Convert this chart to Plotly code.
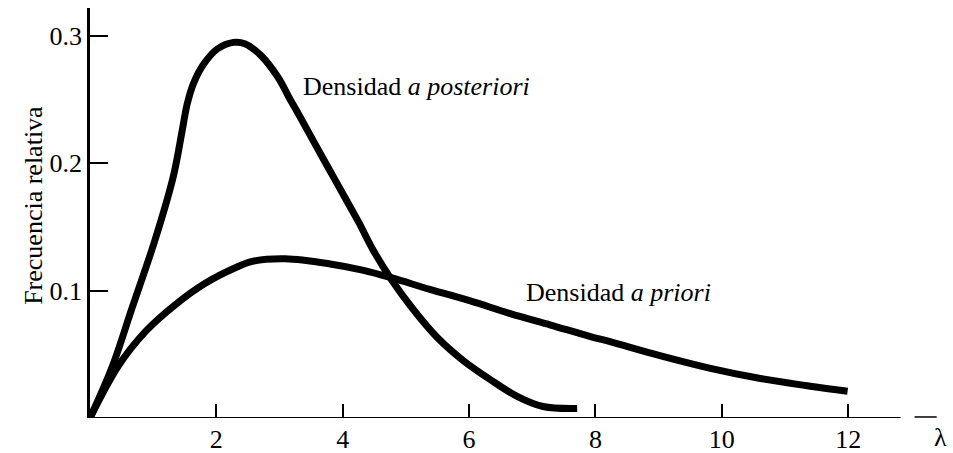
import plotly.graph_objects as go

# Data
post_lam = [0, 0.35, 0.67, 1.03, 1.32, 1.46, 1.54, 1.64, 1.80, 2.02, 2.27, 2.45, 2.70, 2.97, 3.17,
            3.33, 3.53, 3.80, 4.07, 4.25, 4.48, 4.78, 5.12, 5.50, 5.91, 6.34, 6.76, 7.17, 7.71]
post_dens = [0, 0.040, 0.087, 0.140, 0.190, 0.226, 0.247, 0.263, 0.278, 0.290, 0.295, 0.294,
             0.285, 0.268, 0.250, 0.236, 0.218, 0.194, 0.170, 0.154, 0.132, 0.108, 0.085, 0.063,
             0.045, 0.030, 0.017, 0.009, 0.0075]
prior_lam = [0, 0.45, 0.88, 1.35, 1.83, 2.30, 2.57, 3.09, 3.80, 4.33, 4.78, 5.38, 6.02, 6.65,
             7.29, 7.92, 8.23, 9.02, 9.82, 10.61, 11.40, 11.99]
prior_dens = [0, 0.041, 0.068, 0.089, 0.106, 0.118, 0.123, 0.125, 0.121, 0.116, 0.110, 0.101,
              0.092, 0.082, 0.073, 0.064, 0.060, 0.049, 0.039, 0.031, 0.025, 0.021]
x_ticks = [2, 4, 6, 8, 10, 12]
y_ticks = [0.1, 0.2, 0.3]
y_tick_text = ["0.1", "0.2", "0.3"]

serif = "Liberation Serif, Times New Roman, serif"
fsize = 26

fig = go.Figure()
fig.add_trace(go.Scatter(x=post_lam, y=post_dens, mode="lines", hoverinfo="skip",
                         line=dict(color="black", width=7, shape="spline", smoothing=1.0)))
fig.add_trace(go.Scatter(x=prior_lam, y=prior_dens, mode="lines", hoverinfo="skip",
                         line=dict(color="black", width=7, shape="spline", smoothing=1.0)))

# broken x axis line
fig.add_shape(type="line", xref="x", yref="y", x0=0, x1=12.83, y0=0, y1=0,
              line=dict(color="black", width=2))
fig.add_shape(type="line", xref="x", yref="y", x0=13.05, x1=13.4, y0=0.0008, y1=0.0008,
              line=dict(color="black", width=1.5))

fig.add_annotation(x=3.34, y=0.260, xref="x", yref="y", xanchor="left", showarrow=False,
                   text="Densidad <i>a posteriori</i>", font=dict(family=serif, size=fsize, color="black"))
fig.add_annotation(x=6.87, y=0.0986, xref="x", yref="y", xanchor="left", showarrow=False,
                   text="Densidad <i>a priori</i>", font=dict(family=serif, size=fsize, color="black"))
fig.add_annotation(x=0.997, y=-0.0476, xref="paper", yref="paper", xanchor="center", yanchor="middle",
                   showarrow=False, borderpad=0, text="λ", font=dict(family=serif, size=fsize, color="black"))
fig.add_annotation(x=-0.0856, y=0.167, xref="paper", yref="y", showarrow=False, textangle=-90,
                   text="Frecuencia relativa", font=dict(family=serif, size=fsize, color="black"))

fig.update_layout(
    width=953, height=453,
    margin=dict(l=90, r=10, t=8, b=35),
    paper_bgcolor="white", plot_bgcolor="white",
    showlegend=False,
    font=dict(family=serif, size=fsize, color="black"),
    xaxis=dict(range=[0, 13.5], tickvals=x_ticks, ticks="inside", ticklen=14, tickwidth=1.5,
               tickcolor="black", showgrid=False, zeroline=False, showline=False,
               automargin=False, ticklabelstandoff=3, tickfont=dict(family=serif, size=fsize)),
    yaxis=dict(range=[0, 0.322], tickvals=y_ticks, ticktext=y_tick_text, ticks="inside",
               ticklen=18, tickwidth=2, tickcolor="black", showgrid=False, zeroline=False,
               showline=True, linecolor="black", linewidth=2.5, automargin=False,
               tickfont=dict(family=serif, size=fsize)),
)

# the page body has a default 8px margin that would shift the figure
fig.write_html("out.html", config={"displayModeBar": False},
               post_script="document.body.style.margin='0';document.body.style.overflow='hidden';")
